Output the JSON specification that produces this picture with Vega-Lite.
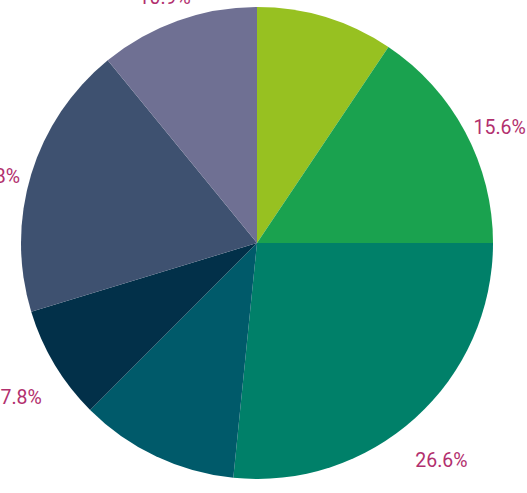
{
  "$schema": "https://vega.github.io/schema/vega-lite/v6.json",
  "width": 514,
  "height": 486,
  "autosize": {"type": "none"},
  "padding": {"left": 0, "top": 0, "right": 13, "bottom": 7},
  "background": "white",
  "view": {"stroke": null},
  "data": {
    "values": [
      {"segment": "A", "order": 1, "share": 9.4, "label": "9.4%"},
      {"segment": "B", "order": 2, "share": 15.6, "label": "15.6%"},
      {"segment": "C", "order": 3, "share": 26.6, "label": "26.6%"},
      {"segment": "D", "order": 4, "share": 10.9, "label": "10.9%"},
      {"segment": "E", "order": 5, "share": 7.8, "label": "7.8%"},
      {"segment": "F", "order": 6, "share": 18.8, "label": "18.8%"},
      {"segment": "G", "order": 7, "share": 10.9, "label": "10.9%"}
    ]
  },
  "encoding": {
    "theta": {"field": "share", "type": "quantitative", "stack": true},
    "order": {"field": "order", "type": "quantitative"}
  },
  "layer": [
    {
      "mark": {"type": "arc", "outerRadius": 236},
      "encoding": {
        "color": {
          "field": "segment",
          "type": "nominal",
          "scale": {
            "domain": ["A", "B", "C", "D", "E", "F", "G"],
            "range": ["#97c121", "#1aa24f", "#008069", "#005a6a", "#023049", "#3e5170", "#6f7093"]
          },
          "legend": null
        }
      }
    },
    {
      "mark": {"type": "text", "radius": 275, "dy": 14, "font": "Roboto", "fontSize": 19.5, "color": "#b2306e"},
      "encoding": {"text": {"field": "label", "type": "nominal"}}
    }
  ]
}
